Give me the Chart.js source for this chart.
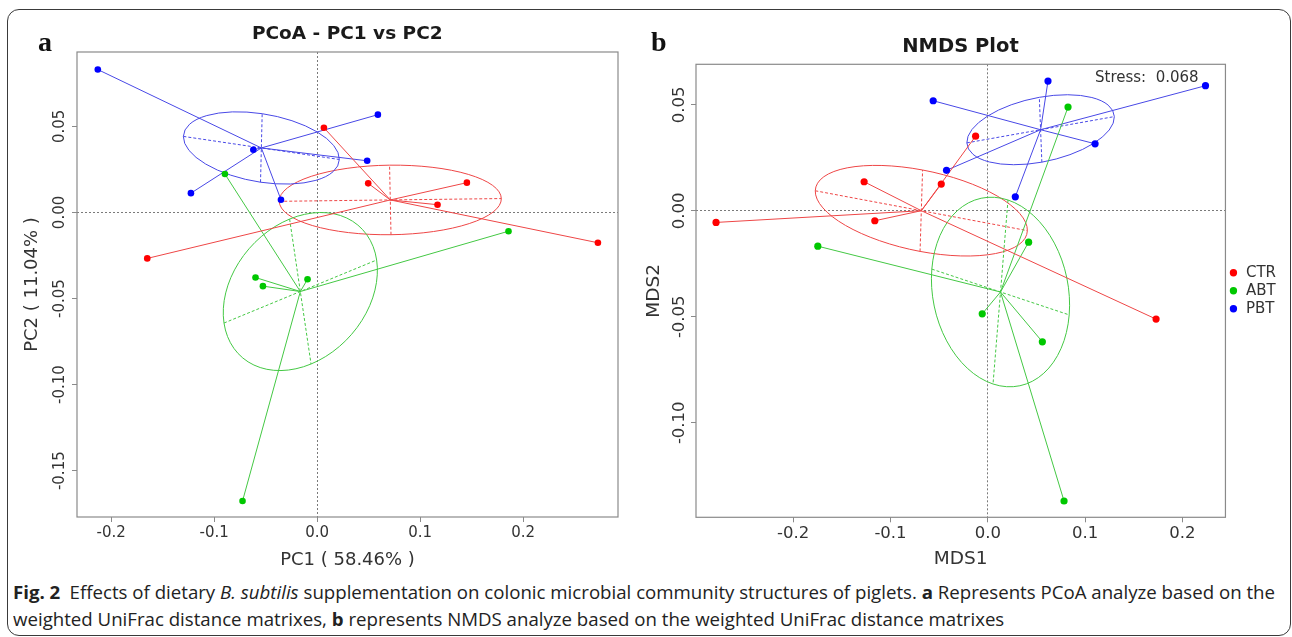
<!DOCTYPE html>
<html>
<head>
<meta charset="utf-8">
<script src="https://cdn.jsdelivr.net/npm/chart.js@4.4.0/dist/chart.umd.min.js"></script>
<style>
  html, body { margin: 0; padding: 0; background: #fff; }
  body { width: 1292px; height: 637px; position: relative; overflow: hidden; font-family: 'DejaVu Sans', sans-serif; }
  .frame { position: absolute; left: 7px; top: 9px; width: 1284px; height: 627px; border: 1.5px solid #3a3a3a; border-radius: 12px; box-sizing: border-box; }
  .panel { position: absolute; top: 0; height: 575px; }
  #panelA { left: 0; width: 640px; }
  #panelB { left: 640px; width: 652px; }
  .tag { position: absolute; top: 28px; font-family: 'Liberation Serif', serif; font-weight: bold; font-size: 28px; line-height: 28px; color: #111; }
  .ptitle { position: absolute; text-align: center; font-weight: bold; color: #1a1a1a; line-height: 1; white-space: nowrap; }
  .stress { position: absolute; left: 1095px; top: 70px; font-size: 15px; line-height: 15px; color: #333; white-space: pre; }
  .caption { position: absolute; left: 13px; top: 578.5px; font-family: 'Open Sans', sans-serif; font-size: 18px; line-height: 27px; white-space: nowrap; color: #222; transform-origin: 0 0; }
</style>
</head>
<body>
<div class="frame"></div>
<div class="panel" id="panelA"><canvas id="pcoa"></canvas></div>
<div class="panel" id="panelB"><canvas id="nmds"></canvas></div>
<div class="tag" style="left:38px">a</div>
<div class="tag" style="left:651px">b</div>
<div class="ptitle" style="left:0;width:694.6px;top:24.3px;font-size:18.5px">PCoA - PC1 vs PC2</div>
<div class="ptitle" style="left:640px;width:641px;top:35.8px;font-size:19.5px">NMDS Plot</div>
<div class="stress">Stress:  0.068</div>
<div class="caption" id="caption"><span id="capLine1"><b>Fig. 2</b>&ensp;Effects of dietary <i>B. subtilis</i> supplementation on colonic microbial community structures of piglets. <b>a</b> Represents PCoA analyze based on the</span><br>weighted UniFrac distance matrixes, <b>b</b> represents NMDS analyze based on the weighted UniFrac distance matrixes</div>

<script>
var groups = ['CTR', 'ABT', 'PBT'];
var pointColors = ['#ff0000', '#00c800', '#0000ff'];
var lineColors = ['#ee4646', '#44c844', '#4848e6'];

// panel a - PCoA sample scores
var pcoaCtrX = [-0.165, 0.0065, 0.0495, 0.1453, 0.1168, 0.2725];
var pcoaCtrY = [-0.0267, 0.0492, 0.0169, 0.0173, 0.0045, -0.0176];
var pcoaAbtX = [-0.0896, -0.0599, -0.0527, -0.0094, -0.0725, 0.1857];
var pcoaAbtY = [0.0223, -0.0378, -0.0428, -0.0388, -0.1676, -0.0109];
var pcoaPbtX = [-0.213, -0.062, -0.1226, -0.0352, 0.0589, 0.0485];
var pcoaPbtY = [0.083, 0.0364, 0.0112, 0.0074, 0.0568, 0.030];
// ellipse half-axes (dx, dy) per group
var pcoaAxis1 = [[0.1078, 0.0008], [0.0741, 0.0183], [0.0757, -0.0067]];
var pcoaAxis2 = [[-0.0007, 0.0202], [0.0104, -0.0421], [0.0008, 0.0199]];
var pcoaXTicks = [-0.2, -0.1, 0, 0.1, 0.2];
var pcoaYTicks = [-0.15, -0.10, -0.05, 0, 0.05];

// panel b - NMDS sample scores
var nmdsCtrX = [-0.2793, -0.1271, -0.1161, -0.0478, -0.0125, 0.173];
var nmdsCtrY = [-0.0055, 0.0137, -0.0047, 0.0126, 0.0352, -0.0511];
var nmdsAbtX = [-0.1747, 0.0825, 0.042, -0.0057, 0.0561, 0.0784];
var nmdsAbtY = [-0.0167, 0.0489, -0.0148, -0.0486, -0.0618, -0.1369];
var nmdsPbtX = [-0.0561, -0.0424, 0.0619, 0.2238, 0.1103, 0.0283];
var nmdsPbtY = [0.0519, 0.0191, 0.0612, 0.059, 0.0316, 0.0066];
var nmdsAxis1 = [[0.109, -0.0094], [0.0706, -0.0108], [0.0758, 0.0062]];
var nmdsAxis2 = [[0.0013, 0.0192], [-0.0077, -0.0434], [-0.0013, 0.0153]];
var nmdsXTicks = [-0.2, -0.1, 0, 0.1, 0.2];
var nmdsYTicks = [-0.10, -0.05, 0, 0.05];

Chart.defaults.font.family = "'DejaVu Sans', sans-serif";
Chart.defaults.color = '#333';

function centroid(xs, ys) {
    var sx = 0, sy = 0;
    for (var i = 0; i < xs.length; i++) { sx += xs[i]; sy += ys[i]; }
    return { x: sx / xs.length, y: sy / ys.length };
}

function buildDatasets(xsets, ysets, radius) {
    var pts = [], spokes = [];
    groups.forEach(function (g, i) {
        var xs = xsets[i], ys = ysets[i];
        var c = centroid(xs, ys);
        pts.push({
            type: 'scatter',
            label: g,
            data: xs.map(function (x, k) { return { x: x, y: ys[k] }; }),
            pointRadius: radius,
            pointHoverRadius: radius,
            pointBackgroundColor: pointColors[i],
            backgroundColor: pointColors[i],
            pointBorderWidth: 0,
            borderWidth: 0
        });
        var d = [];
        xs.forEach(function (x, k) {
            d.push({ x: c.x, y: c.y }, { x: x, y: ys[k] }, { x: x, y: null });
        });
        spokes.push({
            type: 'line',
            label: '',
            data: d,
            borderColor: lineColors[i],
            borderWidth: 1,
            pointRadius: 0,
            spanGaps: false,
            fill: false
        });
    });
    return pts.concat(spokes);
}

// ellipse + its two dashed axes, drawn through the chart scales
function ellipsePlugin(xsets, ysets, axis1, axis2) {
    return {
        id: 'groupEllipses',
        beforeDatasetsDraw: function (chart) {
            var sx = chart.scales.x, sy = chart.scales.y, ctx = chart.ctx, a = chart.chartArea;
            ctx.save();
            ctx.beginPath();
            ctx.rect(a.left, a.top, a.width, a.height);
            ctx.clip();
            ctx.lineWidth = 1;
            groups.forEach(function (g, i) {
                var c = centroid(xsets[i], ysets[i]);
                var cx = sx.getPixelForValue(c.x), cy = sy.getPixelForValue(c.y);
                var ax = sx.getPixelForValue(c.x + axis1[i][0]) - cx;
                var ay = sy.getPixelForValue(c.y + axis1[i][1]) - cy;
                var bx = sx.getPixelForValue(c.x + axis2[i][0]) - cx;
                var by = sy.getPixelForValue(c.y + axis2[i][1]) - cy;
                ctx.strokeStyle = lineColors[i];
                ctx.setLineDash([]);
                ctx.save();
                ctx.beginPath();
                ctx.transform(ax, ay, bx, by, cx, cy);
                ctx.arc(0, 0, 1, 0, Math.PI * 2);
                ctx.restore();
                ctx.stroke();
                ctx.setLineDash([3, 2]);
                ctx.beginPath();
                ctx.moveTo(cx - ax, cy - ay); ctx.lineTo(cx + ax, cy + ay);
                ctx.moveTo(cx - bx, cy - by); ctx.lineTo(cx + bx, cy + by);
                ctx.stroke();
            });
            ctx.restore();
        }
    };
}

var plotBox = {
    id: 'plotBox',
    beforeDatasetsDraw: function (chart) {
        var a = chart.chartArea, ctx = chart.ctx;
        ctx.save();
        ctx.strokeStyle = '#8a8a8a';
        ctx.lineWidth = 1.2;
        ctx.strokeRect(a.left, a.top, a.width, a.height);
        ctx.restore();
    }
};

function axisX(o) {
    return {
        type: 'linear', position: 'bottom', min: o.min, max: o.max,
        afterBuildTicks: function (s) { s.ticks = o.ticks.map(function (v) { return { value: v }; }); },
        afterFit: function (s) { s.height = o.size; },
        grid: {
            drawOnChartArea: true, tickLength: 5, tickColor: '#8a8a8a', lineWidth: 1,
            color: function (c) { return c.tick && c.tick.value === 0 ? '#7a7a7a' : 'rgba(0,0,0,0)'; }
        },
        border: { display: false, dash: [2, 2] },
        ticks: {
            autoSkip: false, maxRotation: 0, padding: o.tickPad, color: '#333',
            font: { size: o.tickFont },
            callback: function (v) { return v.toFixed(1); }
        },
        title: { display: true, text: o.title, color: '#333', font: { size: o.titleFont }, padding: { top: 0, bottom: o.titlePad } }
    };
}

function axisY(o) {
    return {
        type: 'linear', position: 'left', min: o.min, max: o.max,
        afterBuildTicks: function (s) { s.ticks = o.ticks.map(function (v) { return { value: v }; }); },
        afterFit: function (s) { s.width = o.size; },
        grid: {
            drawOnChartArea: true, tickLength: 5, tickColor: '#8a8a8a', lineWidth: 1,
            color: function (c) { return c.tick && c.tick.value === 0 ? '#7a7a7a' : 'rgba(0,0,0,0)'; }
        },
        border: { display: false, dash: [2, 2] },
        ticks: {
            autoSkip: false, minRotation: 90, maxRotation: 90, crossAlign: 'center',
            padding: o.tickPad, color: '#333', font: { size: o.tickFont },
            callback: function (v) { return v.toFixed(2); }
        },
        title: { display: true, text: o.title, color: '#333', font: { size: o.titleFont }, padding: { top: o.titlePad, bottom: 0 } }
    };
}

var pcoaXs = [pcoaCtrX, pcoaAbtX, pcoaPbtX];
var pcoaYs = [pcoaCtrY, pcoaAbtY, pcoaPbtY];
new Chart(document.getElementById('pcoa'), {
    type: 'scatter',
    data: { datasets: buildDatasets(pcoaXs, pcoaYs, 3.3) },
    options: {
        responsive: true, maintainAspectRatio: false, animation: false, events: [],
        layout: { padding: { left: 0, top: 52, right: 22, bottom: 0 } },
        plugins: { legend: { display: false }, tooltip: { enabled: false } },
        scales: {
            x: axisX({ min: -0.2332, max: 0.2920, ticks: pcoaXTicks, size: 58, tickPad: 2, tickFont: 15, title: 'PC1 ( 58.46% )', titleFont: 18, titlePad: 4.2 }),
            y: axisY({ min: -0.1769, max: 0.0932, ticks: pcoaYTicks, size: 77, tickPad: -7.4, tickFont: 15, title: 'PC2 ( 11.04% )', titleFont: 18, titlePad: 21.2 })
        }
    },
    plugins: [plotBox, ellipsePlugin(pcoaXs, pcoaYs, pcoaAxis1, pcoaAxis2)]
});

var nmdsXs = [nmdsCtrX, nmdsAbtX, nmdsPbtX];
var nmdsYs = [nmdsCtrY, nmdsAbtY, nmdsPbtY];
new Chart(document.getElementById('nmds'), {
    type: 'scatter',
    data: { datasets: buildDatasets(nmdsXs, nmdsYs, 3.6) },
    options: {
        responsive: true, maintainAspectRatio: false, animation: false, events: [],
        layout: { padding: { left: 0, top: 64.3, right: 6, bottom: 0 } },
        plugins: {
            tooltip: { enabled: false },
            legend: {
                position: 'right', align: 'center', fullSize: false, maxWidth: 61,
                labels: {
                    usePointStyle: true, boxWidth: 10, boxHeight: 5.2, padding: 3, color: '#333',
                    font: { size: 15 },
                    filter: function (item) { return groups.indexOf(item.text) >= 0; }
                }
            }
        },
        scales: {
            x: axisX({ min: -0.2999, max: 0.2443, ticks: nmdsXTicks, size: 57.7, tickPad: 2, tickFont: 16.5, title: 'MDS1', titleFont: 18.5, titlePad: 4.9 }),
            y: axisY({ min: -0.1446, max: 0.0691, ticks: nmdsYTicks, size: 56, tickPad: -10.3, tickFont: 16.5, title: 'MDS2', titleFont: 18.5, titlePad: 3.4 })
        }
    },
    plugins: [plotBox, ellipsePlugin(nmdsXs, nmdsYs, nmdsAxis1, nmdsAxis2)]
});

// squeeze caption to the width of the printed line
var line1 = document.getElementById('capLine1').getBoundingClientRect().width;
document.getElementById('caption').style.transform = 'scaleX(' + (1262 / line1).toFixed(4) + ')';
</script>
</body>
</html>
